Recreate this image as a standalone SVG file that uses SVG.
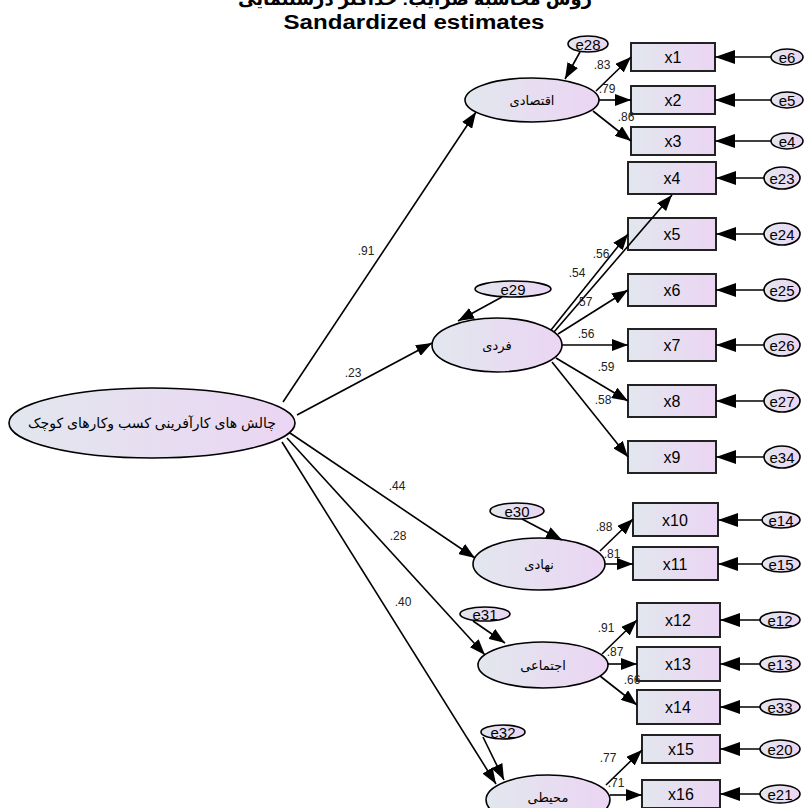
<svg xmlns="http://www.w3.org/2000/svg" width="806" height="808" viewBox="0 0 806 808">
<defs>
<linearGradient id="g" x1="0" y1="0" x2="1" y2="0">
<stop offset="0" stop-color="#e2e7ee"/>
<stop offset="1" stop-color="#ebd5f3"/>
</linearGradient>
<marker id="ah" viewBox="0 0 16 12" refX="16" refY="6" markerWidth="16" markerHeight="12" orient="auto" markerUnits="userSpaceOnUse">
<path d="M0,0 L16,6 L0,12 z" fill="#000"/>
</marker>
<marker id="ahb" viewBox="0 0 20 14" refX="20" refY="7" markerWidth="20" markerHeight="14" orient="auto" markerUnits="userSpaceOnUse">
<path d="M0,0 L20,7 L0,14 z" fill="#000"/>
</marker>
</defs>
<style>
.n{fill:url(#g);stroke:#000;stroke-width:1.6}
.b{fill:url(#g);stroke:#222;stroke-width:2}
.t{font-family:"Liberation Sans","DejaVu Sans",sans-serif;text-anchor:middle;dominant-baseline:central;fill:#000}
.bt{font-size:16px}
.et{font-size:15px}
.lt{font-size:13px}
.c line{stroke:#000;stroke-width:1.6;marker-end:url(#ah)}
.c .eb{marker-end:url(#ahb)}
.v{font-family:"Liberation Sans",sans-serif;font-size:12px;fill:#222;text-anchor:middle;dominant-baseline:central}
</style>
<rect width="806" height="808" fill="#fff"/>
<text x="415" y="5" class="t" style="font-size:18px;font-weight:bold;dominant-baseline:auto" direction="rtl">روش محاسبه ضرایب: حداکثر درستنمایی</text>
<text x="414" y="22" class="t" style="font-size:20px;font-weight:bold" textLength="261" lengthAdjust="spacingAndGlyphs">Sandardized estimates</text>

<g id="main"><ellipse class="n" cx="152" cy="423" rx="143" ry="35"/><text class="t" x="152" y="423" style="font-size:14px">چالش های کارآفرینی کسب وکارهای کوچک</text></g>
<g id="L1"><ellipse class="n" cx="532" cy="100" rx="67" ry="22"/><text class="t lt" x="532" y="100">اقتصادی</text></g>
<g id="L2"><ellipse class="n" cx="497" cy="345" rx="65" ry="27"/><text class="t lt" x="497" y="345">فردی</text></g>
<g id="L3"><ellipse class="n" cx="539" cy="564" rx="66" ry="26"/><text class="t lt" x="539" y="564">نهادی</text></g>
<g id="L4"><ellipse class="n" cx="543" cy="665" rx="65" ry="23"/><text class="t lt" x="543" y="665">اجتماعی</text></g>
<g id="L5"><ellipse class="n" cx="548" cy="800" rx="62" ry="25"/><text class="t lt" x="548" y="797">محیطی</text></g>

<g id="e28"><ellipse class="n" cx="588" cy="44" rx="20" ry="8"/><text class="t et" x="588" y="44">e28</text></g>
<g id="e29"><ellipse class="n" cx="513" cy="289" rx="38" ry="8"/><text class="t et" x="513" y="289">e29</text></g>
<g id="e30"><ellipse class="n" cx="517" cy="511" rx="27" ry="8"/><text class="t et" x="517" y="511">e30</text></g>
<g id="e31"><ellipse class="n" cx="485" cy="614" rx="25" ry="7"/><text class="t et" x="485" y="614">e31</text></g>
<g id="e32"><ellipse class="n" cx="503" cy="732" rx="22" ry="7"/><text class="t et" x="503" y="732">e32</text></g>

<g id="x1"><rect class="b" x="631" y="43" width="84" height="28"/><text class="t bt" x="673" y="57">x1</text></g>
<g id="x2"><rect class="b" x="631" y="86" width="84" height="28"/><text class="t bt" x="673" y="100">x2</text></g>
<g id="x3"><rect class="b" x="631" y="127" width="84" height="28"/><text class="t bt" x="673" y="141">x3</text></g>
<g id="x4"><rect class="b" x="628" y="162" width="88" height="32"/><text class="t bt" x="672" y="178">x4</text></g>
<g id="x5"><rect class="b" x="628" y="218" width="88" height="32"/><text class="t bt" x="672" y="234">x5</text></g>
<g id="x6"><rect class="b" x="628" y="274" width="88" height="32"/><text class="t bt" x="672" y="290">x6</text></g>
<g id="x7"><rect class="b" x="628" y="329" width="88" height="32"/><text class="t bt" x="672" y="345">x7</text></g>
<g id="x8"><rect class="b" x="628" y="385" width="88" height="32"/><text class="t bt" x="672" y="401">x8</text></g>
<g id="x9"><rect class="b" x="628" y="441" width="88" height="32"/><text class="t bt" x="672" y="457">x9</text></g>
<g id="x10"><rect class="b" x="633" y="503" width="85" height="33"/><text class="t bt" x="675" y="520">x10</text></g>
<g id="x11"><rect class="b" x="633" y="547" width="85" height="33"/><text class="t bt" x="675" y="564">x11</text></g>
<g id="x12"><rect class="b" x="637" y="603" width="83" height="34"/><text class="t bt" x="678" y="620">x12</text></g>
<g id="x13"><rect class="b" x="637" y="647" width="83" height="34"/><text class="t bt" x="678" y="664">x13</text></g>
<g id="x14"><rect class="b" x="637" y="690" width="83" height="34"/><text class="t bt" x="678" y="707">x14</text></g>
<g id="x15"><rect class="b" x="642" y="735" width="78" height="28"/><text class="t bt" x="681" y="749">x15</text></g>
<g id="x16"><rect class="b" x="642" y="780" width="78" height="28"/><text class="t bt" x="681" y="794">x16</text></g>

<g id="e6"><ellipse class="n" cx="787" cy="57" rx="16" ry="8"/><text class="t et" x="787" y="57">e6</text></g>
<g id="e5"><ellipse class="n" cx="787" cy="100" rx="16" ry="8"/><text class="t et" x="787" y="100">e5</text></g>
<g id="e4"><ellipse class="n" cx="787" cy="141" rx="16" ry="8"/><text class="t et" x="787" y="141">e4</text></g>
<g id="e23"><ellipse class="n" cx="782" cy="178" rx="18" ry="11"/><text class="t et" x="782" y="178">e23</text></g>
<g id="e24"><ellipse class="n" cx="782" cy="234" rx="18" ry="11"/><text class="t et" x="782" y="234">e24</text></g>
<g id="e25"><ellipse class="n" cx="782" cy="290" rx="18" ry="11"/><text class="t et" x="782" y="290">e25</text></g>
<g id="e26"><ellipse class="n" cx="782" cy="345" rx="18" ry="11"/><text class="t et" x="782" y="345">e26</text></g>
<g id="e27"><ellipse class="n" cx="782" cy="401" rx="18" ry="11"/><text class="t et" x="782" y="401">e27</text></g>
<g id="e34"><ellipse class="n" cx="782" cy="457" rx="18" ry="11"/><text class="t et" x="782" y="457">e34</text></g>
<g id="e14"><ellipse class="n" cx="781" cy="520" rx="19" ry="8"/><text class="t et" x="781" y="520">e14</text></g>
<g id="e15"><ellipse class="n" cx="781" cy="564" rx="19" ry="8"/><text class="t et" x="781" y="564">e15</text></g>
<g id="e12"><ellipse class="n" cx="780" cy="620" rx="20" ry="8"/><text class="t et" x="780" y="620">e12</text></g>
<g id="e13"><ellipse class="n" cx="780" cy="664" rx="20" ry="8"/><text class="t et" x="780" y="664">e13</text></g>
<g id="e33"><ellipse class="n" cx="780" cy="707" rx="20" ry="8"/><text class="t et" x="780" y="707">e33</text></g>
<g id="e20"><ellipse class="n" cx="780" cy="749" rx="20" ry="9"/><text class="t et" x="780" y="749">e20</text></g>
<g id="e21"><ellipse class="n" cx="780" cy="794" rx="20" ry="9"/><text class="t et" x="780" y="794">e21</text></g>

<g id="connectors" class="c">
<line x1="283" y1="402" x2="476" y2="112"/>
<line x1="297" y1="415" x2="432" y2="343"/>
<line x1="290" y1="433" x2="475" y2="558"/>
<line x1="287" y1="438" x2="485" y2="655"/>
<line x1="282" y1="442" x2="496" y2="784"/>
<line x1="580" y1="52" x2="565" y2="79"/>
<line x1="502" y1="297" x2="458" y2="321"/>
<line x1="522" y1="519" x2="562" y2="540"/>
<line x1="473" y1="621" x2="505" y2="643"/>
<line x1="483" y1="737" x2="504" y2="780"/>
<line x1="596" y1="91" x2="631" y2="57"/>
<line x1="599" y1="100" x2="631" y2="100"/>
<line x1="593" y1="111" x2="631" y2="141"/>
<line x1="554" y1="332" x2="672" y2="195"/>
<line x1="551" y1="330" x2="628" y2="234"/>
<line x1="558" y1="334" x2="628" y2="290"/>
<line x1="562" y1="345" x2="628" y2="345"/>
<line x1="556" y1="358" x2="628" y2="401"/>
<line x1="552" y1="362" x2="628" y2="457"/>
<line x1="600" y1="551" x2="633" y2="519"/>
<line x1="605" y1="564" x2="633" y2="564"/>
<line x1="602" y1="654" x2="637" y2="620"/>
<line x1="608" y1="664" x2="637" y2="664"/>
<line x1="600" y1="676" x2="637" y2="705"/>
<line x1="606" y1="785" x2="642" y2="750"/>
<line x1="610" y1="795" x2="642" y2="795"/>
<line class="eb" x1="771" y1="57" x2="715" y2="57"/>
<line class="eb" x1="771" y1="100" x2="715" y2="100"/>
<line class="eb" x1="771" y1="141" x2="715" y2="141"/>
<line class="eb" x1="764" y1="178" x2="716" y2="178"/>
<line class="eb" x1="764" y1="234" x2="716" y2="234"/>
<line class="eb" x1="764" y1="290" x2="716" y2="290"/>
<line class="eb" x1="764" y1="345" x2="716" y2="345"/>
<line class="eb" x1="764" y1="401" x2="716" y2="401"/>
<line class="eb" x1="764" y1="457" x2="716" y2="457"/>
<line class="eb" x1="762" y1="520" x2="718" y2="520"/>
<line class="eb" x1="762" y1="564" x2="718" y2="564"/>
<line class="eb" x1="760" y1="620" x2="720" y2="620"/>
<line class="eb" x1="760" y1="664" x2="720" y2="664"/>
<line class="eb" x1="760" y1="707" x2="720" y2="707"/>
<line class="eb" x1="760" y1="749" x2="720" y2="749"/>
<line class="eb" x1="760" y1="794" x2="720" y2="794"/>
</g>

<g id="labels">
<text class="v" x="366" y="251">.91</text>
<text class="v" x="353" y="373">.23</text>
<text class="v" x="397" y="486">.44</text>
<text class="v" x="398" y="536">.28</text>
<text class="v" x="403" y="602">.40</text>
<text class="v" x="602" y="65">.83</text>
<text class="v" x="607" y="89">.79</text>
<text class="v" x="626" y="117">.86</text>
<text class="v" x="601" y="254">.56</text>
<text class="v" x="577" y="273">.54</text>
<text class="v" x="584" y="302">.57</text>
<text class="v" x="586" y="334">.56</text>
<text class="v" x="606" y="367">.59</text>
<text class="v" x="603" y="400">.58</text>
<text class="v" x="604" y="527">.88</text>
<text class="v" x="612" y="554">.81</text>
<text class="v" x="606" y="628">.91</text>
<text class="v" x="615" y="652">.87</text>
<text class="v" x="632" y="680">.66</text>
<text class="v" x="608" y="758">.77</text>
<text class="v" x="616" y="783">.71</text>
</g>
</svg>
